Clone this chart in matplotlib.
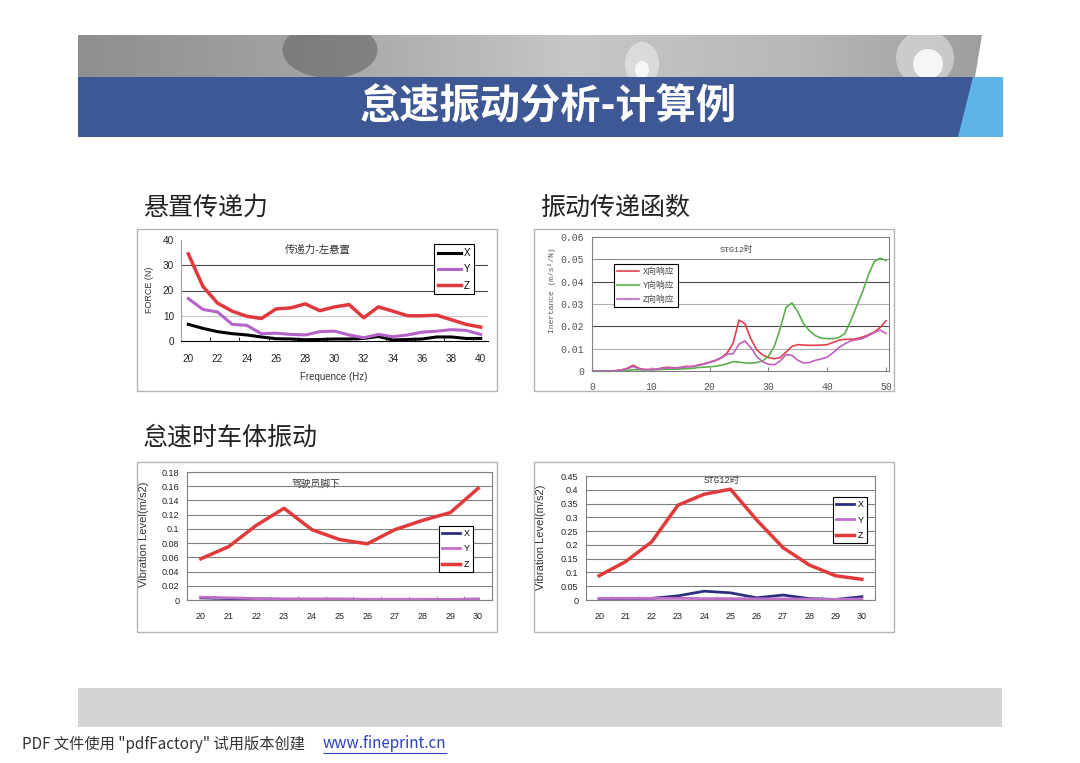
import numpy as np
import matplotlib
matplotlib.use("Agg")
import matplotlib.pyplot as plt
from matplotlib.patches import Rectangle, Polygon, Ellipse

W, H = 1080, 763

SANS = ["Liberation Sans", "Noto Sans CJK SC", "DejaVu Sans"]
CJK = ["Noto Sans CJK SC", "DejaVu Sans"]
MONO = ["Liberation Mono", "Noto Sans CJK SC", "DejaVu Sans"]
plt.rcParams["font.family"] = SANS

# --- chart 1: mount transmitted force (N) vs frequency
freq1 = list(range(20, 41))
force_x = [6.6, 5.0, 3.7, 2.9, 2.4, 1.6, 0.9, 0.8, 0.5, 0.6, 0.8,
           0.8, 1.0, 1.8, 0.4, 0.6, 0.8, 1.6, 1.6, 1.0, 1.0]
force_y = [16.8, 12.5, 11.5, 6.6, 6.2, 2.9, 3.1, 2.6, 2.4, 3.7, 3.9,
           2.4, 1.3, 2.6, 1.7, 2.4, 3.5, 3.9, 4.5, 4.2, 2.6]
force_z = [34.5, 21.6, 15.0, 11.8, 9.8, 8.9, 12.7, 13.1, 14.7, 12.0, 13.5,
           14.4, 9.2, 13.5, 11.8, 10.0, 10.0, 10.2, 8.4, 6.6, 5.5]

# --- chart 2: inertance vs frequency
freq2 = list(range(0, 51))
iner_x = [0, 0, 0, 0, 0.0002, 0.0005, 0.0012, 0.0026, 0.0012, 0.0006,
          0.0007, 0.0008, 0.0014, 0.0017, 0.0014, 0.0016, 0.0021, 0.0020, 0.0026, 0.0032,
          0.0040, 0.0048, 0.0060, 0.0082, 0.0125, 0.0228, 0.0212, 0.0145, 0.0095, 0.0072,
          0.0060, 0.0055, 0.0060, 0.0085, 0.0110, 0.0118, 0.0116, 0.0115, 0.0115, 0.0116,
          0.0118, 0.0128, 0.0138, 0.0142, 0.0142, 0.0145, 0.0152, 0.0162, 0.0175, 0.0195,
          0.0225]
iner_y = [0, 0, 0, 0, 0, 0, 0.0003, 0.0006, 0.0005, 0.0005,
          0.0005, 0.0006, 0.0007, 0.0008, 0.0008, 0.0009, 0.0010, 0.0012, 0.0015, 0.0017,
          0.0019, 0.0021, 0.0026, 0.0033, 0.0042, 0.0040, 0.0036, 0.0035, 0.0038, 0.0045,
          0.0065, 0.0110, 0.0190, 0.0285, 0.0305, 0.0265, 0.0210, 0.0180, 0.0158, 0.0147,
          0.0145, 0.0145, 0.0150, 0.0168, 0.0225, 0.0290, 0.0355, 0.0430, 0.0490, 0.0505,
          0.0495]
iner_z = [0, 0, 0, 0, 0, 0.0004, 0.0010, 0.0020, 0.0010, 0.0006,
          0.0007, 0.0008, 0.0012, 0.0014, 0.0013, 0.0015, 0.0018, 0.0020, 0.0025, 0.0030,
          0.0038, 0.0046, 0.0058, 0.0075, 0.0078, 0.0120, 0.0135, 0.0105, 0.0065, 0.0042,
          0.0030, 0.0028, 0.0045, 0.0073, 0.0070, 0.0048, 0.0036, 0.0038, 0.0048, 0.0054,
          0.0062, 0.0082, 0.0105, 0.0122, 0.0135, 0.0140, 0.0145, 0.0158, 0.0172, 0.0183,
          0.0168]
iner_yticklabels = ["0", "0.01", "0.02", "0.03", "0.04", "0.05", "0.06"]

# --- chart 3: body vibration at driver's feet
freq3 = list(range(20, 31))
driver_x = [0.003, 0.002, 0.0015, 0.001, 0.001, 0.001, 0.0008, 0.0008, 0.0008, 0.0008, 0.001]
driver_y = [0.004, 0.003, 0.002, 0.0015, 0.0015, 0.0015, 0.001, 0.001, 0.001, 0.0008, 0.0015]
driver_z = [0.058, 0.075, 0.105, 0.129, 0.099, 0.085, 0.079, 0.099, 0.112, 0.123, 0.157]
driver_yticklabels = ["0", "0.02", "0.04", "0.06", "0.08", "0.1", "0.12", "0.14", "0.16", "0.18"]

# --- chart 4: body vibration at STG12
stg_x = [0.005, 0.005, 0.006, 0.015, 0.032, 0.026, 0.008, 0.018, 0.005, 0.002, 0.012]
stg_y = [0.006, 0.006, 0.006, 0.006, 0.005, 0.005, 0.004, 0.004, 0.003, 0.002, 0.004]
stg_z = [0.088, 0.139, 0.211, 0.344, 0.384, 0.402, 0.290, 0.190, 0.127, 0.088, 0.075]
stg_yticklabels = ["0", "0.05", "0.1", "0.15", "0.2", "0.25", "0.3", "0.35", "0.4", "0.45"]


fig = plt.figure(figsize=(W / 100, H / 100), dpi=100)
bg = fig.add_axes([0, 0, 1, 1])
bg.set_xlim(0, W)
bg.set_ylim(H, 0)
bg.axis("off")


def px_axes(x0, y0, x1, y1):
    ax = fig.add_axes([x0 / W, 1 - y1 / H, (x1 - x0) / W, (y1 - y0) / H])
    ax.set_facecolor("none")
    return ax


# header: grey photo strip + blue title band
g = np.interp(np.linspace(0, 1, 300), [0, 0.25, 0.55, 0.8, 1], [0.56, 0.64, 0.78, 0.72, 0.62])
strip = np.dstack([np.tile(g, (30, 1))] * 3)
clip = Polygon([(78, 35), (982, 35), (975, 77), (78, 77)], closed=True,
               transform=bg.transData, facecolor="none", edgecolor="none")
bg.add_patch(clip)
im = bg.imshow(strip, extent=(78, 982, 77, 35), aspect="auto", zorder=1)
im.set_clip_path(clip)
for (cx, cy, w, h, c, a) in [(330, 50, 95, 56, "#5e5e5e", 0.55),
                             (642, 64, 34, 44, "#f0f0f0", 0.55),
                             (642, 70, 14, 18, "#ffffff", 0.8),
                             (925, 58, 58, 56, "#e8e8e8", 0.55),
                             (928, 64, 30, 30, "#ffffff", 0.85)]:
    e = Ellipse((cx, cy), w, h, facecolor=c, alpha=a, edgecolor="none", zorder=2)
    bg.add_patch(e)
    e.set_clip_path(clip)
bg.add_patch(Rectangle((78, 77), 925, 60, facecolor="#3e5795", edgecolor="none", zorder=3))
bg.add_patch(Polygon([(973, 77), (1003, 77), (1003, 137), (958, 137)], closed=True,
                     facecolor="#5db3e5", edgecolor="none", zorder=4))
bg.text(548, 107, "怠速振动分析-计算例", color="white", fontsize=29, fontweight="bold",
        ha="center", va="center", family=CJK, zorder=5)

# footer band and note
bg.add_patch(Rectangle((78, 688), 924, 39, facecolor="#d4d4d4", edgecolor="none"))
bg.text(22, 744, 'PDF 文件使用 "pdfFactory" 试用版本创建', fontsize=11, color="#333333",
        ha="left", va="center", family=CJK)
bg.text(323, 744, "www.fineprint.cn", fontsize=11, color="#2a3fbf",
        ha="left", va="center", family=CJK)
bg.hlines(753, 323, 447, color="#2a3fbf", lw=0.8)

# section titles
for x, y, s in [(143, 208, "悬置传递力"), (540, 208, "振动传递函数"), (143, 438, "怠速时车体振动")]:
    bg.text(x, y, s, fontsize=18, color="#222222", ha="left", va="center", family=CJK)

# chart frames
for x0, y0, x1, y1 in [(137, 229, 497, 391), (534, 229, 894, 391),
                       (137, 462, 497, 632), (534, 462, 894, 632)]:
    bg.add_patch(Rectangle((x0, y0), x1 - x0, y1 - y0, facecolor="white",
                           edgecolor="#b4b4b4", lw=1))

# ---- chart 1
ax1 = px_axes(181, 240, 488, 341)
for v, c in [(10, "#c8c8c8"), (20, "#4a4a4a"), (30, "#4a4a4a")]:
    ax1.axhline(v, color=c, lw=0.8, zorder=0)
ax1.plot(freq1, force_x, color="black", lw=2.2, label="X")
ax1.plot(freq1, force_y, color="#b464c8", lw=2.2, label="Y")
ax1.plot(freq1, force_z, color="#e0383c", lw=2.5, label="Z")
ax1.set_xlim(19.5, 40.5)
ax1.set_ylim(0, 40)
ax1.set_xticks(range(20, 41, 2))
ax1.set_xticks(np.arange(21.5, 40, 2), minor=True)
ax1.set_yticks(range(0, 41, 10))
for s in ["top", "right"]:
    ax1.spines[s].set_visible(False)
ax1.spines["left"].set_color("#a0a0a0")
ax1.spines["bottom"].set_color("black")
ax1.tick_params(axis="both", which="major", length=0, labelsize=7.2, labelcolor="#222222")
ax1.tick_params(axis="x", which="major", pad=9.5)
ax1.tick_params(axis="y", which="major", pad=5)
ax1.tick_params(axis="x", which="minor", length=3, direction="in", color="black")
leg = ax1.legend(loc="upper right", bbox_to_anchor=(0.954, 0.96), fontsize=7, fancybox=False,
                 edgecolor="black", framealpha=1, handlelength=2.3, handletextpad=0.3,
                 borderpad=0.4, labelspacing=0.65, borderaxespad=0)
leg.get_frame().set_linewidth(0.8)
bg.text(318, 250, "传递力-左悬置", fontsize=7.5, color="#333333", ha="center", va="center")
bg.text(150, 290, "FORCE (N)", fontsize=6.5, color="#333333", rotation=90, ha="center", va="center")
bg.text(334, 377, "Frequence (Hz)", fontsize=7, color="#333333", ha="center", va="center")

# ---- chart 2
ax2 = px_axes(592, 237, 889, 371)
for v, c in [(0.01, "#b0b0b0"), (0.02, "#4a4a4a"), (0.03, "#b0b0b0"),
             (0.04, "#4a4a4a"), (0.05, "#909090")]:
    ax2.axhline(v, color=c, lw=0.8, zorder=0)
ax2.plot(freq2, iner_x, color="#e0404a", lw=1.2, label="X向响应")
ax2.plot(freq2, iner_y, color="#5ab04a", lw=1.2, label="Y向响应")
ax2.plot(freq2, iner_z, color="#c060c0", lw=1.2, label="Z向响应")
ax2.set_xlim(0, 50.5)
ax2.set_ylim(0, 0.06)
ax2.set_xticks(range(0, 51, 10))
ax2.set_yticks(np.linspace(0, 0.06, 7))
ax2.set_yticklabels(iner_yticklabels)
for s in ax2.spines.values():
    s.set_color("#808080")
    s.set_linewidth(0.8)
ax2.tick_params(axis="x", length=3, direction="in", color="#808080", pad=8)
ax2.tick_params(axis="y", length=0, pad=5.5)
for lab in ax2.get_xticklabels() + ax2.get_yticklabels():
    lab.set_family(MONO)
    lab.set_fontsize(7)
    lab.set_color("#555555")
leg = ax2.legend(loc="upper left", bbox_to_anchor=(0.074, 0.80), prop=dict(family=MONO, size=6.3),
                 fancybox=False, edgecolor="black", framealpha=1, handlelength=2.5,
                 handletextpad=0.4, borderpad=0.4, labelspacing=0.55, borderaxespad=0)
leg.get_frame().set_linewidth(0.8)
for t in leg.get_texts():
    t.set_color("#444444")
bg.text(736, 250, "STG12时", fontsize=6, family=MONO, color="#444444", ha="center", va="center")
bg.text(552, 290, "Inertance (m/s²/N)", fontsize=5.8, family=MONO, color="#555555",
        rotation=90, ha="center", va="center")

# ---- charts 3 and 4
def vib_chart(box, xs, ys, zs, ymax, step, labels, anchor):
    ax = px_axes(*box)
    ax.plot(freq3, xs, color="#2b2f7e", lw=2, label="X")
    ax.plot(freq3, ys, color="#c070c8", lw=2, label="Y")
    ax.plot(freq3, zs, color="#e03a3a", lw=2.5, label="Z")
    ax.set_xlim(19.5, 30.5)
    ax.set_ylim(0, ymax)
    ax.set_xticks(freq3)
    ax.set_xticks(np.arange(20.5, 30, 1), minor=True)
    ax.set_yticks(np.arange(len(labels)) * step)
    ax.set_yticklabels(labels)
    ax.grid(axis="y", color="#808080", lw=0.8)
    ax.set_axisbelow(True)
    for s in ax.spines.values():
        s.set_color("#808080")
        s.set_linewidth(0.8)
    ax.tick_params(axis="both", which="major", length=0, labelsize=6.5, labelcolor="#222222")
    ax.tick_params(axis="x", which="major", pad=8.5)
    ax.tick_params(axis="y", which="major", pad=5.5)
    ax.tick_params(axis="x", which="minor", length=3, direction="in", color="#808080")
    lg = ax.legend(loc="upper right", bbox_to_anchor=anchor, fontsize=6.5, fancybox=False,
                   edgecolor="black", framealpha=1, handlelength=2.0, handletextpad=0.4,
                   borderpad=0.35, labelspacing=0.7, borderaxespad=0)
    lg.get_frame().set_linewidth(0.8)
    return ax


vib_chart((187, 472, 492, 600), driver_x, driver_y, driver_z, 0.18, 0.02,
          driver_yticklabels, (0.938, 0.578))
bg.text(316, 484, "驾驶员脚下", fontsize=7, color="#333333", ha="center", va="center")
bg.text(144, 534, "Vibration Level(m/s2)", fontsize=8, color="#333333", rotation=90,
        ha="center", va="center")

vib_chart((586, 476, 875, 600), stg_x, stg_y, stg_z, 0.45, 0.05,
          stg_yticklabels, (0.972, 0.83))
bg.text(722, 481, "STG12时", fontsize=6.5, family=MONO, color="#333333", ha="center", va="center")
bg.text(541, 537, "Vibration Level(m/s2)", fontsize=8, color="#333333", rotation=90,
        ha="center", va="center")

fig.savefig("out.png", dpi=100)
